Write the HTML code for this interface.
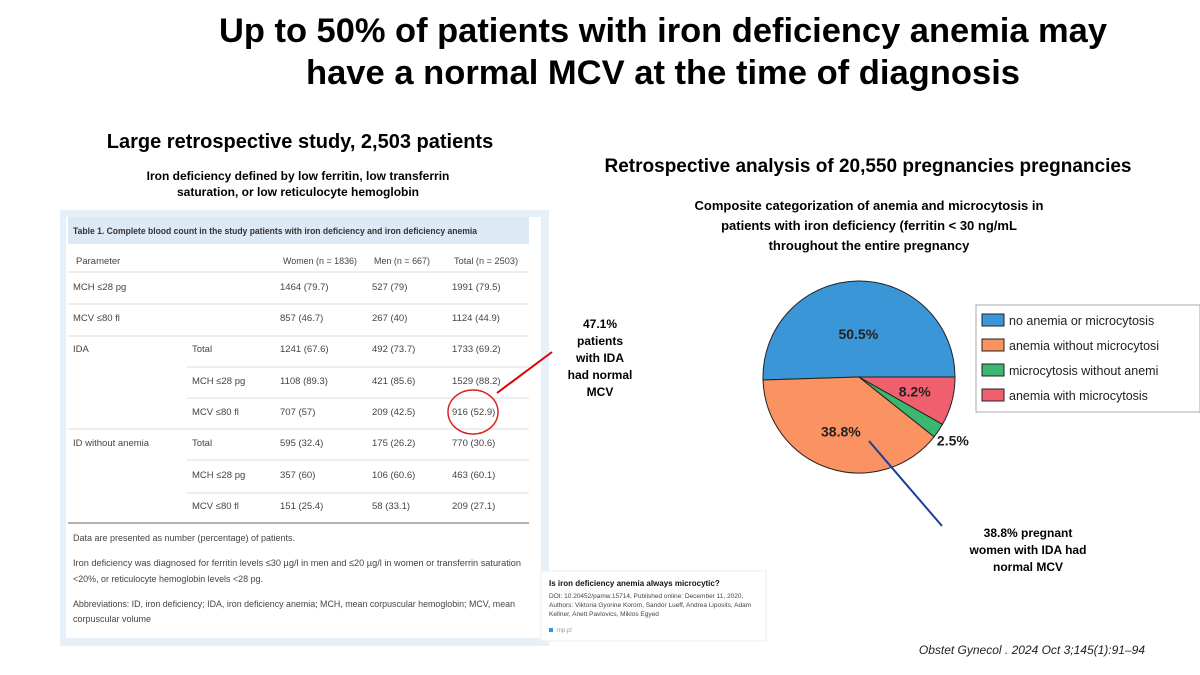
<!DOCTYPE html>
<html><head><meta charset="utf-8"><style>
body{margin:0;width:1200px;height:675px;background:#fff;overflow:hidden;font-family:"Liberation Sans",sans-serif}
svg{position:absolute;left:0;top:0}
</style></head><body>
<svg width="1200" height="675">
<text x="663" y="42" text-anchor="middle" font-size="34" font-weight="bold" fill="#000" textLength="888" lengthAdjust="spacingAndGlyphs">Up to 50% of patients with iron deficiency anemia may</text>
<text x="663" y="84" text-anchor="middle" font-size="34" font-weight="bold" fill="#000" textLength="714" lengthAdjust="spacingAndGlyphs">have a normal MCV at the time of diagnosis</text>
<text x="300" y="148" text-anchor="middle" font-size="20" font-weight="bold">Large retrospective study, 2,503 patients</text>
<text x="298" y="180" text-anchor="middle" font-size="12" font-weight="bold">Iron deficiency defined by low ferritin, low transferrin</text>
<text x="298" y="196" text-anchor="middle" font-size="12" font-weight="bold">saturation, or low reticulocyte hemoglobin</text>

<g font-size="9.5" fill="#444">
<rect x="60" y="210" width="489" height="436" fill="#e6f0fa"/>
<rect x="66" y="217" width="475" height="421" fill="#fff"/>
<rect x="68" y="217" width="461" height="27" fill="#dde9f5"/>
<text x="73" y="234" font-weight="bold" font-size="9" fill="#333" textLength="404" lengthAdjust="spacingAndGlyphs">Table 1. Complete blood count in the study patients with iron deficiency and iron deficiency anemia</text>
<text x="76" y="264">Parameter</text><text x="283" y="264" textLength="74" lengthAdjust="spacingAndGlyphs">Women (n = 1836)</text><text x="374" y="264" textLength="56" lengthAdjust="spacingAndGlyphs">Men (n = 667)</text><text x="454" y="264" textLength="64" lengthAdjust="spacingAndGlyphs">Total (n = 2503)</text>
<g stroke="#ddd" stroke-width="1">
<line x1="68" y1="272" x2="529" y2="272"/><line x1="68" y1="304" x2="529" y2="304"/><line x1="68" y1="336" x2="529" y2="336"/>
<line x1="187" y1="367" x2="529" y2="367"/><line x1="187" y1="398" x2="529" y2="398"/><line x1="68" y1="429" x2="529" y2="429"/>
<line x1="187" y1="460" x2="529" y2="460"/><line x1="187" y1="493" x2="529" y2="493"/>
</g>
<line x1="68" y1="523" x2="529" y2="523" stroke="#999" stroke-width="1.5"/>
<text x="73" y="290">MCH ≤28 pg</text><text x="280" y="290">1464 (79.7)</text><text x="372" y="290">527 (79)</text><text x="452" y="290">1991 (79.5)</text>
<text x="73" y="321">MCV ≤80 fl</text><text x="280" y="321">857 (46.7)</text><text x="372" y="321">267 (40)</text><text x="452" y="321">1124 (44.9)</text>
<text x="73" y="352">IDA</text><text x="192" y="352">Total</text><text x="280" y="352">1241 (67.6)</text><text x="372" y="352">492 (73.7)</text><text x="452" y="352">1733 (69.2)</text>
<text x="192" y="384">MCH ≤28 pg</text><text x="280" y="384">1108 (89.3)</text><text x="372" y="384">421 (85.6)</text><text x="452" y="384">1529 (88.2)</text>
<text x="192" y="415">MCV ≤80 fl</text><text x="280" y="415">707 (57)</text><text x="372" y="415">209 (42.5)</text><text x="452" y="415">916 (52.9)</text>
<text x="73" y="446">ID without anemia</text><text x="192" y="446">Total</text><text x="280" y="446">595 (32.4)</text><text x="372" y="446">175 (26.2)</text><text x="452" y="446">770 (30.6)</text>
<text x="192" y="478">MCH ≤28 pg</text><text x="280" y="478">357 (60)</text><text x="372" y="478">106 (60.6)</text><text x="452" y="478">463 (60.1)</text>
<text x="192" y="509">MCV ≤80 fl</text><text x="280" y="509">151 (25.4)</text><text x="372" y="509">58 (33.1)</text><text x="452" y="509">209 (27.1)</text>
<text x="73" y="541" textLength="222" lengthAdjust="spacingAndGlyphs">Data are presented as number (percentage) of patients.</text>
<text x="73" y="566" textLength="448" lengthAdjust="spacingAndGlyphs">Iron deficiency was diagnosed for ferritin levels ≤30 µg/l in men and ≤20 µg/l in women or transferrin saturation</text>
<text x="73" y="582" textLength="190" lengthAdjust="spacingAndGlyphs">&lt;20%, or reticulocyte hemoglobin levels &lt;28 pg.</text>
<text x="73" y="607" textLength="442" lengthAdjust="spacingAndGlyphs">Abbreviations: ID, iron deficiency; IDA, iron deficiency anemia; MCH, mean corpuscular hemoglobin; MCV, mean</text>
<text x="73" y="622" textLength="78" lengthAdjust="spacingAndGlyphs">corpuscular volume</text>
</g>
<ellipse cx="473" cy="412" rx="25" ry="22" fill="none" stroke="#d22" stroke-width="1.5"/>
<line x1="497" y1="393" x2="552" y2="352" stroke="#d00" stroke-width="2"/>
<g font-size="12" font-weight="bold" text-anchor="middle">
<text x="600" y="328">47.1%</text><text x="600" y="345">patients</text><text x="600" y="362">with IDA</text><text x="600" y="379">had normal</text><text x="600" y="396">MCV</text></g>

<text x="868" y="172" text-anchor="middle" font-size="19" font-weight="bold">Retrospective analysis of 20,550 pregnancies pregnancies</text>
<g font-size="13" font-weight="bold" text-anchor="middle">
<text x="869" y="210">Composite categorization of anemia and microcytosis in</text>
<text x="869" y="230">patients with iron deficiency (ferritin &lt; 30 ng/mL</text>
<text x="869" y="250">throughout the entire pregnancy</text></g>
<g id="pie"></g>
<g>
<rect x="976" y="305" width="224" height="107" fill="#fff" stroke="#aaa"/>
<g id="legend"></g></g>
<line x1="869" y1="441" x2="942" y2="526" stroke="#1a3e9a" stroke-width="2"/>
<g font-size="12" font-weight="bold" text-anchor="middle">
<text x="1028" y="537">38.8% pregnant</text><text x="1028" y="554">women with IDA had</text><text x="1028" y="571">normal MCV</text></g>
<g>
<rect x="541" y="571" width="225" height="70" fill="#fff" stroke="#eee"/>
<text x="549" y="586" font-size="8" font-weight="bold" fill="#111">Is iron deficiency anemia always microcytic?</text>
<text x="549" y="598" font-size="6.5" fill="#444">DOI: 10.20452/pamw.15714, Published online: December 11, 2020,</text>
<text x="549" y="607" font-size="6.5" fill="#444">Authors: Viktoria Gyorine Korom, Sandor Lueff, Andrea Liposits, Adam</text>
<text x="549" y="616" font-size="6.5" fill="#444">Kellner, Anett Pavlovics, Miklos Egyed</text>
<rect x="549" y="628" width="4" height="4" fill="#2a9ad8"/><text x="557" y="632" font-size="6" fill="#999">mp.pl</text></g>
<text x="1145" y="654" text-anchor="end" font-size="12" font-style="italic" fill="#222">Obstet Gynecol . 2024 Oct 3;145(1):91–94</text>
</svg>
<script>
const categories=["no anemia or microcytosis","anemia without microcytosis","microcytosis without anemia","anemia with microcytosis"];
const legendLabels=["no anemia or microcytosis","anemia without microcytosi","microcytosis without anemi","anemia with microcytosis"];
const values=[50.5,38.8,2.5,8.2];
const colors=["#3a96d6","#fb9262","#3cb771","#f1606e"];
const NS="http://www.w3.org/2000/svg";
const cx=859,cy=377,r=96;
const total=values.reduce((a,b)=>a+b,0);
const pie=document.getElementById('pie');
let a0=0;
function pt(a,rr){return [cx+rr*Math.cos(a),cy-rr*Math.sin(a)];}
values.forEach((v,i)=>{
 const a1=a0+v/total*2*Math.PI;
 const p0=pt(a0,r),p1=pt(a1,r);
 const path=document.createElementNS(NS,'path');
 path.setAttribute('d',`M${cx},${cy}L${p0[0]},${p0[1]}A${r},${r} 0 ${a1-a0>Math.PI?1:0} 0 ${p1[0]},${p1[1]}Z`);
 path.setAttribute('fill',colors[i]);path.setAttribute('stroke','#222');path.setAttribute('stroke-width','1');
 
 
 pie.appendChild(path);
 const am=(a0+a1)/2;const lr=v<5?r*1.18:(v>45?r*0.45:r*0.6);const lp=pt(am,lr);
 const t=document.createElementNS(NS,'text');
 t.setAttribute('x',lp[0]);t.setAttribute('y',lp[1]+5);t.setAttribute('text-anchor','middle');
 t.setAttribute('font-size','14');t.setAttribute('font-weight','bold');t.setAttribute('fill','#222');
 t.textContent=v.toFixed(1)+'%';
 
 
 pie.appendChild(t);
 a0=a1;
});
const lg=document.getElementById('legend');
legendLabels.forEach((c,i)=>{
 const y=314+i*25;
 const rc=document.createElementNS(NS,'rect');
 rc.setAttribute('x',982);rc.setAttribute('y',y);rc.setAttribute('width',22);rc.setAttribute('height',12);
 rc.setAttribute('fill',colors[i]);rc.setAttribute('stroke','#222');
 
 
 lg.appendChild(rc);
 const t=document.createElementNS(NS,'text');
 t.setAttribute('x',1009);t.setAttribute('y',y+11);t.setAttribute('font-size','12.5');t.setAttribute('fill','#222');
 t.textContent=c;
 
 
 lg.appendChild(t);
});
</script>
</body></html>
